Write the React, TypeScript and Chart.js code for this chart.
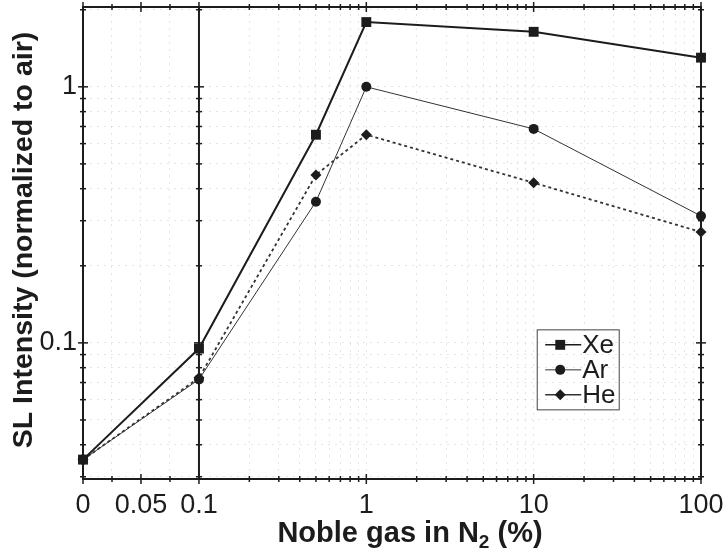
import { useEffect, useRef } from 'react';
import { Chart, Scale, registerables } from 'chart.js';
import { drawPoint } from 'chart.js/helpers';

// Noble gas concentration in N2 (%)
const concentrations = [0, 0.1, 0.5, 1, 10, 100];

// SL intensity normalized to air
const xeIntensity = [0.035, 0.095, 0.65, 1.79, 1.64, 1.3];
const arIntensity = [0.035, 0.072, 0.356, 1.0, 0.685, 0.313];
const heIntensity = [0.035, 0.073, 0.453, 0.65, 0.422, 0.271];

const seriesNames = ['Xe', 'Ar', 'He'];

// Tick positions (linear part 0..0.1, logarithmic part 0.1..100)
const xTickValues = [
  0, 0.025, 0.05, 0.075, 0.1,
  0.2, 0.3, 0.4, 0.5, 0.6, 0.7, 0.8, 0.9, 1,
  2, 3, 4, 5, 6, 7, 8, 9, 10,
  20, 30, 40, 50, 60, 70, 80, 90, 100,
];
const xTickLabels: Record<string, string> = {
  '0': '0', '0.05': '0.05', '0.1': '0.1', '1': '1', '10': '10', '100': '100',
};
const yTickValues = [
  0.03, 0.04, 0.05, 0.06, 0.07, 0.08, 0.09, 0.1,
  0.2, 0.3, 0.4, 0.5, 0.6, 0.7, 0.8, 0.9, 1, 2,
];
const yTickLabels: Record<string, string> = { '0.1': '0.1', '1': '1' };

const INK = '#1c1c1c';
const FONT = '"Liberation Sans", Arial, Helvetica, sans-serif';

// Break point between the linear and logarithmic sections of the x axis
const LINEAR_LIMIT = 0.1;
// Width of the linear section, expressed in decades of the log section
const LINEAR_WIDTH = 0.693;

class LinLogScale extends Scale {
  static id = 'linlog';
  static defaults = {};

  startPos = 0;
  spanPos = 1;

  toPos(v: number) {
    return v <= LINEAR_LIMIT
      ? (v / LINEAR_LIMIT) * LINEAR_WIDTH
      : LINEAR_WIDTH + Math.log10(v / LINEAR_LIMIT);
  }

  determineDataLimits() {
    const opts: any = this.options;
    this.min = opts.min ?? 0;
    this.max = opts.max ?? 100;
  }

  buildTicks() {
    const opts: any = this.options;
    return (opts.tickValues || []).map((value: number) => ({ value }));
  }

  getLabelForValue(v: number) {
    return String(v);
  }

  configure() {
    super.configure();
    this.startPos = this.toPos(this.min);
    this.spanPos = this.toPos(this.max) - this.startPos;
  }

  getPixelForValue(v: number) {
    if (v === null || v === undefined || isNaN(v)) return NaN;
    return this.getPixelForDecimal((this.toPos(v) - this.startPos) / this.spanPos);
  }

  getValueForPixel(p: number) {
    const pos = this.startPos + this.getDecimalForPixel(p) * this.spanPos;
    return pos <= LINEAR_WIDTH
      ? (pos / LINEAR_WIDTH) * LINEAR_LIMIT
      : LINEAR_LIMIT * Math.pow(10, pos - LINEAR_WIDTH);
  }
}

Chart.register(...registerables, LinLogScale);

const toPoints = (values: number[]) =>
  concentrations.map((x, i) => ({ x, y: values[i] }));

// Let the layout padding alone decide where the plot area sits
const clearScalePadding = (s: any) => {
  s.paddingLeft = 0;
  s.paddingRight = 0;
  s.paddingTop = 0;
  s.paddingBottom = 0;
};

// Frame, tick marks and the divider at 0.1
const framePlugin = {
  id: 'frame',
  beforeDatasetsDraw(chart: any) {
    const { ctx, chartArea, scales } = chart;
    const { left, right, top, bottom } = chartArea;
    const x = scales.x;
    const y = scales.y;
    const seg = (x1: number, y1: number, x2: number, y2: number) => {
      ctx.beginPath();
      ctx.moveTo(x1, y1);
      ctx.lineTo(x2, y2);
      ctx.stroke();
    };
    ctx.save();
    ctx.strokeStyle = INK;
    ctx.lineWidth = 2;
    ctx.strokeRect(left, top, right - left, bottom - top);
    const divider = x.getPixelForValue(LINEAR_LIMIT);
    seg(divider, top, divider, bottom);

    ctx.lineWidth = 1.5;
    for (const v of xTickValues) {
      const px = x.getPixelForValue(v);
      const h = xTickLabels[String(v)] ? 5 : 3;
      seg(px, bottom - h, px, bottom + h);
      seg(px, top - h, px, top + h);
    }
    for (const v of yTickValues) {
      const py = y.getPixelForValue(v);
      const h = yTickLabels[String(v)] ? 5 : 3;
      seg(left - h, py, left + h, py);
      seg(right - h, py, right + h, py);
      seg(divider - h, py, divider + h, py);
    }
    ctx.restore();
  },
  afterDraw(chart: any) {
    const { ctx, chartArea } = chart;
    const { left, right, top, bottom } = chartArea;
    ctx.save();
    ctx.fillStyle = INK;

    // x axis title with subscript
    const big = `bold 29px ${FONT}`;
    const small = `bold 19px ${FONT}`;
    const p1 = 'Noble gas in N';
    const p2 = '2';
    const p3 = ' (%)';
    ctx.font = big;
    const w1 = ctx.measureText(p1).width;
    const w3 = ctx.measureText(p3).width;
    ctx.font = small;
    const w2 = ctx.measureText(p2).width;
    const total = w1 + w2 + w3;
    let tx = (left + right) / 2 + 18 - total / 2;
    const baseY = 542;
    ctx.textBaseline = 'alphabetic';
    ctx.textAlign = 'left';
    ctx.font = big;
    ctx.fillText(p1, tx, baseY);
    tx += w1;
    ctx.font = small;
    ctx.fillText(p2, tx, baseY + 6);
    tx += w2;
    ctx.font = big;
    ctx.fillText(p3, tx, baseY);

    // y axis title
    ctx.save();
    ctx.translate(24, (top + bottom) / 2 - 3);
    ctx.rotate(-Math.PI / 2);
    ctx.textAlign = 'center';
    ctx.textBaseline = 'middle';
    ctx.font = `bold 28.5px ${FONT}`;
    ctx.fillText('SL Intensity (normalized to air)', 0, 0);
    ctx.restore();

    // legend box inside the plot
    const bx = left + (right - left) * 0.735;
    const by = top + (bottom - top) * 0.684;
    const bw = 82;
    const bh = 80;
    ctx.strokeStyle = '#444';
    ctx.lineWidth = 1;
    ctx.strokeRect(bx, by, bw, bh);
    ctx.font = `26px ${FONT}`;
    ctx.textAlign = 'left';
    ctx.textBaseline = 'middle';
    chart.data.datasets.forEach((ds: any, i: number) => {
      const ry = by + 15 + i * 25;
      ctx.strokeStyle = ds.borderColor;
      ctx.lineWidth = Math.min(ds.borderWidth, 1.5);
      ctx.setLineDash([]);
      ctx.beginPath();
      ctx.moveTo(bx + 8, ry);
      ctx.lineTo(bx + 44, ry);
      ctx.stroke();
      ctx.fillStyle = ds.pointBackgroundColor;
      drawPoint(ctx, {
        pointStyle: ds.pointStyle,
        radius: ds.pointRadius,
        borderWidth: 0,
        rotation: 0,
      } as any, bx + 23, ry);
      ctx.fillStyle = INK;
      ctx.fillText(ds.label, bx + 45, ry + 1);
    });
    ctx.restore();
  },
};

export default function App() {
  const canvasRef = useRef<HTMLCanvasElement | null>(null);

  useEffect(() => {
    if (!canvasRef.current) return;
    const tickFont = { family: FONT, size: 27 };
    const chart = new Chart(canvasRef.current, {
      type: 'line',
      data: {
        datasets: [
          {
            label: seriesNames[0],
            data: toPoints(xeIntensity),
            borderColor: INK,
            borderWidth: 2,
            pointStyle: 'rect',
            pointRadius: 7,
            pointBackgroundColor: INK,
            pointBorderWidth: 0,
            clip: false,
          },
          {
            label: seriesNames[1],
            data: toPoints(arIntensity),
            borderColor: '#333',
            borderWidth: 1,
            pointStyle: 'circle',
            pointRadius: 5,
            pointBackgroundColor: INK,
            pointBorderWidth: 0,
            clip: false,
          },
          {
            label: seriesNames[2],
            data: toPoints(heIntensity),
            borderColor: '#333',
            borderWidth: 1.8,
            borderDash: [3, 3],
            pointStyle: 'rectRot',
            pointRadius: 5.5,
            pointBackgroundColor: INK,
            pointBorderWidth: 0,
            clip: false,
          },
        ] as any,
      },
      options: {
        animation: false,
        responsive: true,
        maintainAspectRatio: false,
        layout: { padding: { left: 0, top: 7, right: 26, bottom: 0 } },
        plugins: {
          legend: { display: false },
          tooltip: { enabled: false },
        },
        scales: {
          x: {
            type: 'linlog' as any,
            axis: 'x',
            position: 'bottom',
            min: 0,
            max: 100,
            tickValues: xTickValues,
            ticks: {
              autoSkip: false,
              maxRotation: 0,
              padding: 10,
              font: tickFont,
              color: INK,
              callback: (v: any) => xTickLabels[String(v)] ?? '',
            },
            grid: { drawTicks: false, color: 'rgba(0,0,0,0.1)', lineWidth: 1 },
            border: { display: false, dash: [2, 5] },
            afterFit: (s: any) => {
              s.height = 77;
              clearScalePadding(s);
            },
          } as any,
          y: {
            type: 'logarithmic',
            position: 'left',
            min: 0.0294,
            max: 2.05,
            afterBuildTicks: (s: any) => {
              s.ticks = yTickValues.map((value) => ({ value }));
            },
            ticks: {
              autoSkip: false,
              padding: 6,
              font: tickFont,
              color: INK,
              callback: (v: any) => yTickLabels[String(v)] ?? '',
            },
            grid: { drawTicks: false, color: 'rgba(0,0,0,0.1)', lineWidth: 1 },
            border: { display: false, dash: [2, 5] },
            afterFit: (s: any) => {
              s.width = 83;
              clearScalePadding(s);
            },
          },
        },
      },
      plugins: [framePlugin],
    });
    return () => chart.destroy();
  }, []);

  return (
    <div style={{ position: 'fixed', left: 0, top: 0, width: 727, height: 556, background: '#fff' }}>
      <canvas ref={canvasRef} />
    </div>
  );
}
